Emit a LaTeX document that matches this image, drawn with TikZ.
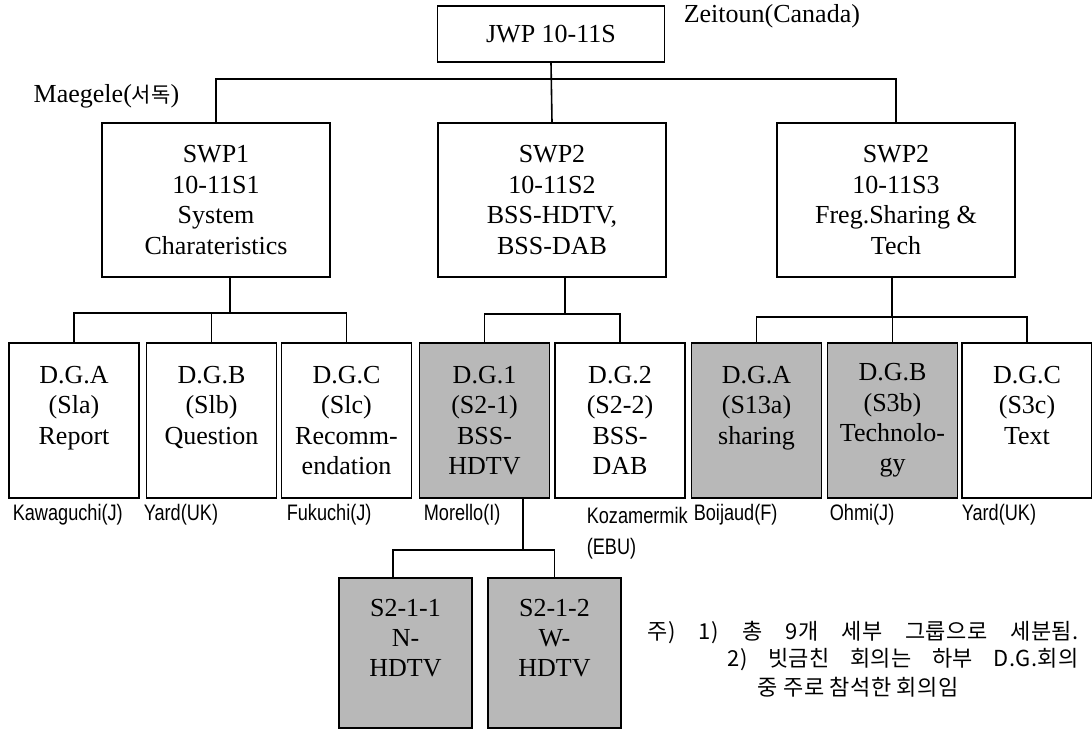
\documentclass[tikz,border=0pt]{standalone}
\usepackage{fontspec}
\setmainfont{Liberation Serif}
\newfontfamily\krfont{Noto Sans CJK KR}
\newfontfamily\krnotefont[LetterSpace=2]{Noto Sans CJK KR}
\newfontfamily\namefont[FakeStretch=0.81]{Liberation Sans}
\newcommand\boxfont{\fontsize{13}{15.2}\selectfont}
\newcommand\chairfont{\namefont\fontsize{11.2}{13}\selectfont}
\newcommand\notefont{\krnotefont\fontsize{11}{13}\selectfont}

\tikzset{
    grp/.style={draw, inner sep=0pt, align=center, font=\boxfont},
    swpbox/.style={grp, minimum width=114pt, minimum height=77pt},
    dgbox/.style={grp, minimum width=65pt, minimum height=77.5pt},
    hatched/.style={fill=black!28},
    chair/.style={anchor=west, inner sep=0pt, font=\chairfont},
    noteline/.style={anchor=west, inner sep=0pt, font=\notefont},
}

\begin{document}
\begin{tikzpicture}[x=0.5pt, y=-0.5pt, line width=0.8pt]
    \useasboundingbox (0,0) rectangle (1092,731);

    % -------------------------------
    % JWP
    % -------------------------------
    \node[grp, minimum width=113.5pt, minimum height=28pt] (jwp) at (551,34) {JWP 10-11S};
    \node[anchor=west, inner sep=0pt, font=\boxfont] (zeit) at (683,16) {Zeitoun(Canada)};
    \node[anchor=east, inner sep=0pt, font=\boxfont] (maeg) at (180,96)
        {Maegele({\krfont\fontsize{10.5}{12}\selectfont 서독})};

    % -------------------------------
    % SWP
    % -------------------------------
    \node[swpbox] (swp1) at (216,200) {SWP1\\10-11S1\\System\\Charateristics};
    \node[swpbox] (swp2) at (552,200) {SWP2\\10-11S2\\BSS-HDTV,\\BSS-DAB};
    \node[swpbox, minimum width=119pt] (swp3) at (896,200) {SWP2\\10-11S3\\Freg.Sharing \&\\Tech};

    \coordinate (bus0) at (552,79);
    \draw (jwp.south) -- (swp2.north);
    \draw (swp1.north) |- (bus0) -| (swp3.north);

    % -------------------------------
    % D.G.
    % -------------------------------
    \node[dgbox] (dga) at (74,420.5) {D.G.A\\(Sla)\\Report\\\mbox{}};
    \node[dgbox] (dgb) at (211.5,420.5) {D.G.B\\(Slb)\\Question\\\mbox{}};
    \node[dgbox] (dgc) at (346.5,420.5) {D.G.C\\(Slc)\\Recomm-\\endation};
    \node[dgbox, hatched] (dg1) at (484.5,420.5) {D.G.1\\(S2-1)\\BSS-\\HDTV};
    \node[dgbox] (dg2) at (620,420.5) {D.G.2\\(S2-2)\\BSS-\\DAB};
    \node[dgbox, hatched] (dga3) at (756.5,420.5) {D.G.A\\(S13a)\\sharing\\\mbox{}};
    \node[dgbox, hatched] (dgb3) at (892.5,420.5) {D.G.B\\(S3b)\\Technolo-\\gy};
    \node[dgbox] (dgc3) at (1027,420.5) {D.G.C\\(S3c)\\Text\\\mbox{}};

    \coordinate (b1) at (230,313);
    \draw (swp1.south -| b1) -- (b1);
    \draw (dga.north) |- (b1) -| (dgc.north);
    \draw (dgb.north) -- (dgb.north |- b1);

    \coordinate (b2) at (565,314);
    \draw (swp2.south -| b2) -- (b2);
    \draw (dg1.north) |- (b2) -| (dg2.north);

    \coordinate (b3) at (892,317);
    \draw (swp3.south -| b3) -- (b3);
    \draw (dga3.north) |- (b3) -| (dgc3.north);
    \draw (dgb3.north) -- (dgb3.north |- b3);

    % 의장
    \node[chair] (ch1) at (12,515) {Kawaguchi(J)};
    \node[chair] (ch2) at (143,515) {Yard(UK)};
    \node[chair] (ch3) at (286,515) {Fukuchi(J)};
    \node[chair] (ch4) at (423,515) {Morello(I)};
    \node[chair] (ch5) at (586,515) {Kozamermik};
    \node[chair] (ch5b) at (586,549) {(EBU)};
    \node[chair] (ch6) at (693,515) {Boijaud(F)};
    \node[chair] (ch7) at (829,515) {Ohmi(J)};
    \node[chair] (ch8) at (961,515) {Yard(UK)};

    % -------------------------------
    % S2-1
    % -------------------------------
    \node[dgbox, hatched, minimum width=66.5pt, minimum height=75pt] (s211) at (405.5,653) {S2-1-1\\N-\\HDTV\\\mbox{}};
    \node[dgbox, hatched, minimum width=66.5pt, minimum height=75pt] (s212) at (554.5,653) {S2-1-2\\W-\\HDTV\\\mbox{}};

    \coordinate (b4) at (523,550);
    \draw (dg1.south -| b4) -- (b4);
    \draw ([xshift=-6.25pt]s211.north) |- (b4) -| (s212.north);

    % 주
    \node[noteline] (n1) at (647,633) {\makebox[215.5pt][s]{주) 1) 총 9개 세부 그룹으로 세분됨.}};
    \node[noteline] (n2) at (727,660) {\makebox[175.5pt][s]{2) 빗금친 회의는 하부 D.G.회의}};
    \node[noteline] (n3) at (757,687) {중 주로 참석한 회의임};

\end{tikzpicture}
\end{document}
